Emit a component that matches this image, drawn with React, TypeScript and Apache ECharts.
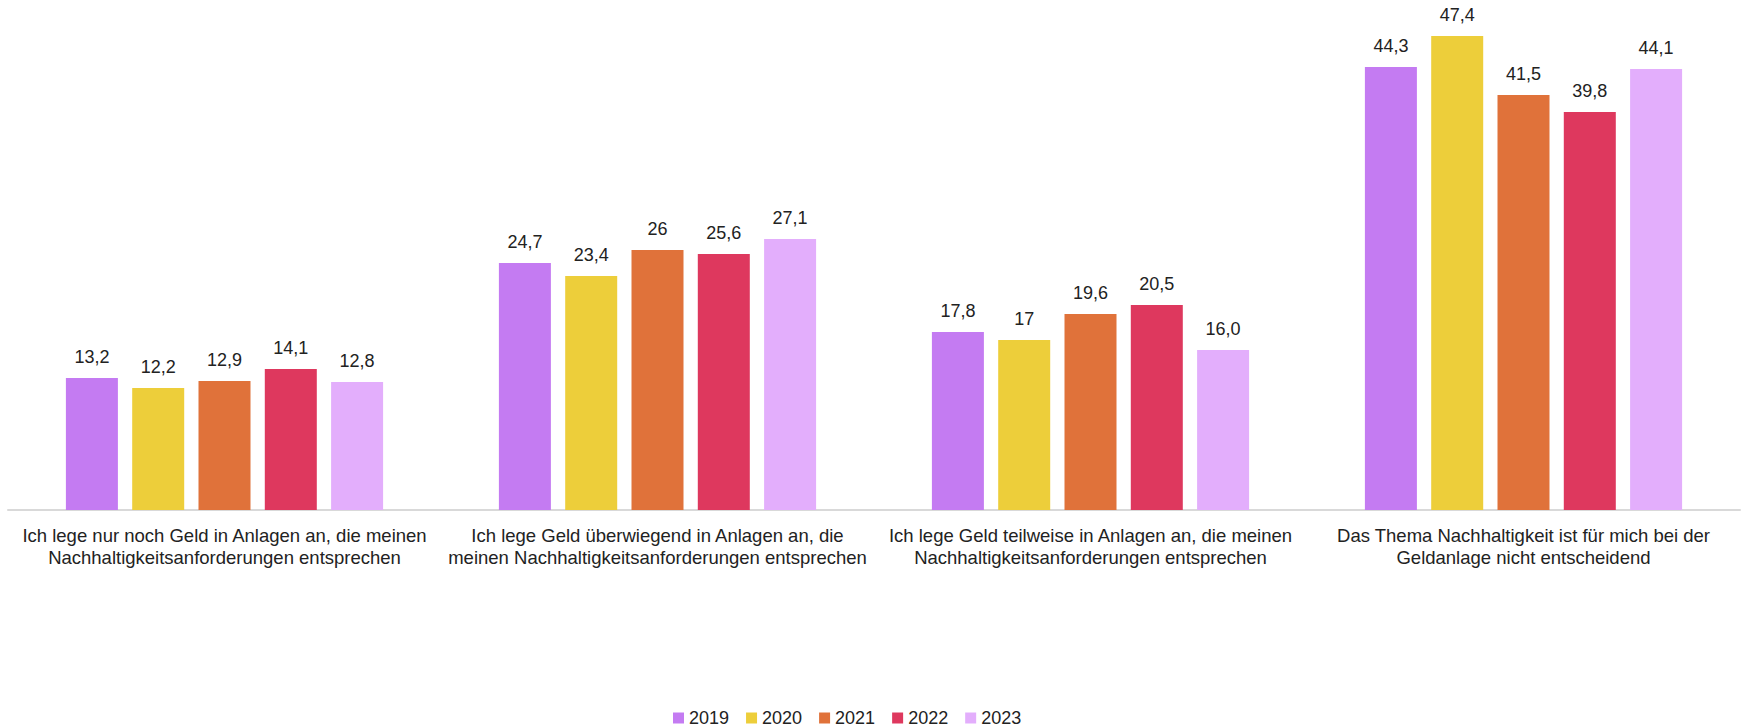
import React, { useEffect, useRef } from "react";
import * as echarts from "echarts";

const categories = [
  "Ich lege nur noch Geld in Anlagen an, die meinen\nNachhaltigkeitsanforderungen entsprechen",
  "Ich lege Geld überwiegend in Anlagen an, die\nmeinen Nachhaltigkeitsanforderungen entsprechen",
  "Ich lege Geld teilweise in Anlagen an, die meinen\nNachhaltigkeitsanforderungen entsprechen",
  "Das Thema Nachhaltigkeit ist für mich bei der\nGeldanlage nicht entscheidend",
];

const years = ["2019", "2020", "2021", "2022", "2023"];

const values2019 = [13.2, 24.7, 17.8, 44.3];
const values2020 = [12.2, 23.4, 17, 47.4];
const values2021 = [12.9, 26, 19.6, 41.5];
const values2022 = [14.1, 25.6, 20.5, 39.8];
const values2023 = [12.8, 27.1, 16.0, 44.1];

const labels2019 = ["13,2", "24,7", "17,8", "44,3"];
const labels2020 = ["12,2", "23,4", "17", "47,4"];
const labels2021 = ["12,9", "26", "19,6", "41,5"];
const labels2022 = ["14,1", "25,6", "20,5", "39,8"];
const labels2023 = ["12,8", "27,1", "16,0", "44,1"];

const colors = ["#C47BF2", "#EDCE3A", "#E0723A", "#DE385E", "#E3AEFC"];

const FONT = "'Liberation Sans', Arial, sans-serif";

export default function App() {
  const ref = useRef<HTMLDivElement>(null);

  useEffect(() => {
    if (!ref.current) return;
    const chart = echarts.init(ref.current, null, { renderer: "svg" });
    const allValues = [values2019, values2020, values2021, values2022, values2023];
    const allLabels = [labels2019, labels2020, labels2021, labels2022, labels2023];

    chart.setOption({
      animation: false,
      textStyle: { fontFamily: FONT },
      grid: { left: 8, right: 1, top: 10, bottom: 218, containLabel: false },
      legend: {
        data: years,
        left: 673,
        top: 709,
        padding: 0,
        itemWidth: 11,
        itemHeight: 11,
        itemGap: 17,
        icon: "rect",
        textStyle: { fontSize: 18, lineHeight: 18, color: "#222", fontFamily: FONT },
      },
      xAxis: {
        type: "category",
        data: categories,
        axisLine: { show: true, lineStyle: { color: "#D9D9D9", width: 2 } },
        axisTick: { show: false },
        axisLabel: {
          interval: 0,
          fontSize: 18.5,
          lineHeight: 22,
          color: "#222",
          margin: 14,
          fontFamily: FONT,
        },
      },
      yAxis: {
        type: "value",
        min: 0,
        max: 50,
        show: false,
        splitLine: { show: false },
      },
      series: years.map((y, i) => ({
        name: y,
        type: "bar",
        data: allValues[i],
        barWidth: 52,
        barGap: "27.5%",
        itemStyle: { color: colors[i] },
        label: {
          show: true,
          position: "top",
          distance: 12,
          fontSize: 18,
          color: "#222",
          fontFamily: FONT,
          formatter: (p: any) => allLabels[i][p.dataIndex],
        },
      })),
    });

    return () => chart.dispose();
  }, []);

  return (
    <div
      ref={ref}
      style={{ position: "fixed", left: 0, top: 0, width: 1741, height: 728, background: "#fff" }}
    />
  );
}
